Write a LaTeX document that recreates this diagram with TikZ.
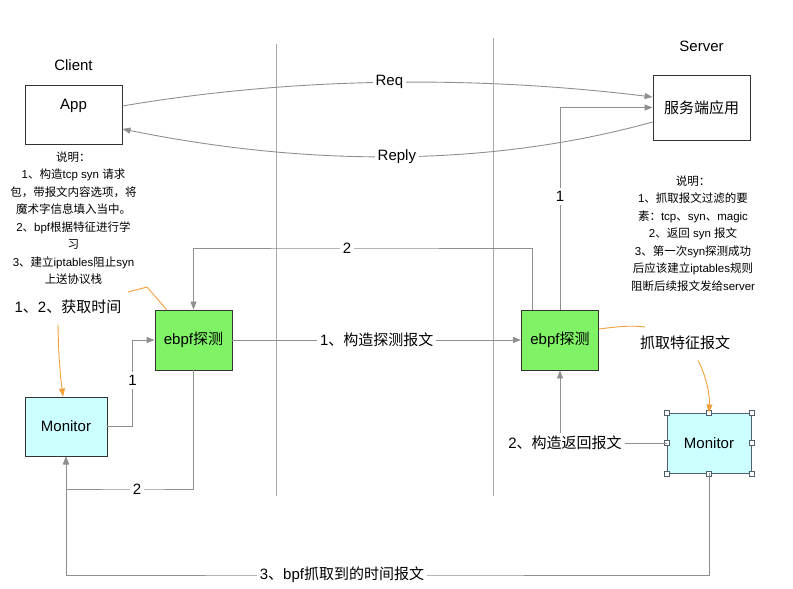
\documentclass[tikz,border=0pt]{standalone}
\usepackage{fontspec}
\setmainfont{Liberation Sans}
\newfontfamily\cjkfont{Noto Sans CJK SC}
\newcommand\latinfont{\rmfamily}
\XeTeXinterchartokenstate=1
\newXeTeXintercharclass\cjkclass
\newcount\cjkcode
\cjkcode="3000
\loop\ifnum\cjkcode<"A000 \XeTeXcharclass\cjkcode=\cjkclass \advance\cjkcode by 1 \repeat
\cjkcode="FF00
\loop\ifnum\cjkcode<"FFF0 \XeTeXcharclass\cjkcode=\cjkclass \advance\cjkcode by 1 \repeat
\XeTeXinterchartoks 0 \cjkclass = {\cjkfont}
\XeTeXinterchartoks 4095 \cjkclass = {\cjkfont}
\XeTeXinterchartoks \cjkclass 0 = {\latinfont}
\XeTeXinterchartoks \cjkclass 4095 = {\latinfont}
\usepackage{tikz}
\usetikzlibrary{arrows.meta, calc, positioning}

\definecolor{probegreen}{HTML}{80F266}
\definecolor{monitorcyan}{HTML}{CCFFFF}
\definecolor{linegray}{HTML}{8F8F8F}
\definecolor{dividergray}{HTML}{A8A8A8}
\definecolor{hintorange}{HTML}{F2A13A}
\definecolor{handleblue}{HTML}{50606E}

\begin{document}
\begin{tikzpicture}[
	x=1pt, y=-1pt,
	every node/.style = {font=\fontsize{15}{18}\selectfont},
	plain box/.style = {rectangle, draw=black!80, line width=0.9pt, minimum width=97pt, inner sep=0pt},
	probe box/.style = {plain box, fill=probegreen, minimum width=77pt, minimum height=60pt},
	monitor box/.style = {plain box, fill=monitorcyan, minimum height=60pt},
	flow line/.style = {draw=linegray, line width=0.9pt, -{Triangle[length=8pt, width=6pt]}},
	flow label/.style = {fill=white, inner sep=3pt},
	divider line/.style = {draw=dividergray, line width=0.8pt},
	hint line/.style = {draw=hintorange, line width=0.9pt},
	hint arrow/.style = {hint line, -{Triangle[length=8pt, width=6pt]}},
	note text/.style = {align=center, inner sep=0pt, font=\fontsize{11.5}{17.5}\selectfont},
	handle mark/.style = {rectangle, draw=handleblue, fill=white, line width=0.6pt, minimum size=5pt, inner sep=0pt}
]

\useasboundingbox (0,0) rectangle (793,589);

\draw[divider line] (276,44) -- (276,496);
\draw[divider line] (493,38) -- (493,496);

\node[plain box, minimum height=59pt, text depth=20pt] (app) at (73.5,114.5) {App};
\node[above=10pt of app] (client) {Client};
\node[plain box, minimum height=65pt] (server) at (701.5,107.5) {服务端应用};
\node[above=19pt of server] (srv) {Server};

\node[note text, below=7pt of app] (cnote) {说明：\\1、构造tcp syn 请求\\包，带报文内容选项，将\\魔术字信息填入当中。\\2、bpf根据特征进行学\\习\\3、建立iptables阻止syn\\上送协议栈};
\node[note text, anchor=north] (snote) at (693,175.5) {说明：\\1、抓取报文过滤的要\\素：tcp、syn、magic\\2、返回 syn 报文\\3、第一次syn探测成功\\后应该建立iptables规则\\阻断后续报文发给server};

\node[probe box] (probeL) at (193.5,340) {ebpf探测};
\node[probe box] (probeR) at (560,340) {ebpf探测};
\node[monitor box, minimum width=82pt, minimum height=59pt] (monL) at (66,426.5) {Monitor};
\node[monitor box, draw=handleblue, minimum width=84pt] (monR) at (709,443) {Monitor};
\foreach \a in {north west, north, north east, east, south east, south, south west, west}
	\node[handle mark] at (monR.\a) {};

\node (time) at (68,307) {1、2、获取时间};
\node (grab) at (685,343) {抓取特征报文};

\draw[flow line] ([yshift=8.5pt]app.east) .. controls (300,76) and (480,76) .. ([yshift=10.5pt]server.west)
	node[flow label, pos=0.5] {Req};
\draw[flow line] ([yshift=-14.5pt]server.west) .. controls (490,167) and (310,167) .. ([yshift=-14.5pt]app.east)
	node[flow label, pos=0.5] {Reply};

\draw[flow line] (probeL) -- node[flow label] {1、构造探测报文} (probeR);
\draw[flow line] (probeR.north) |- node[flow label, pos=0.28] {1} (server.west);
\draw[flow line] ([xshift=-28pt]probeR.north) |- (347,248) node[flow label] {2} -| (probeL.north);
\draw[flow line] (monL.east) -- ++(25,0) -- ++(0,-46) node[flow label] {1} |- (probeL.west);
\draw[flow line] (probeL.south) |- (137,489) node[flow label] {2} -| (monL.south);
\draw[flow line] (monR.south) |- (342,575) node[flow label] {3、bpf抓取到的时间报文} -| (monL.south);
\draw[flow line] (monR.west) -| node[flow label, xshift=5pt] {2、构造返回报文} (probeR.south);

\coordinate (cn) at (128,292);
\coordinate (gb) at (645,327);
\draw[hint line] (cn) -- (147,287) -- ([xshift=12pt]probeL.north west);
\draw[hint arrow] ([xshift=-10pt, yshift=-7pt]time.south) to[bend right=3] ([xshift=-3pt]monL.north);
\draw[hint line] ([yshift=11pt]probeR.east) .. controls (615,327) and (630,325) .. (gb);
\draw[hint arrow] ([xshift=13pt, yshift=-7pt]grab.south) .. controls (706,375) and (710,395) .. (monR.north);

\end{tikzpicture}
\end{document}
